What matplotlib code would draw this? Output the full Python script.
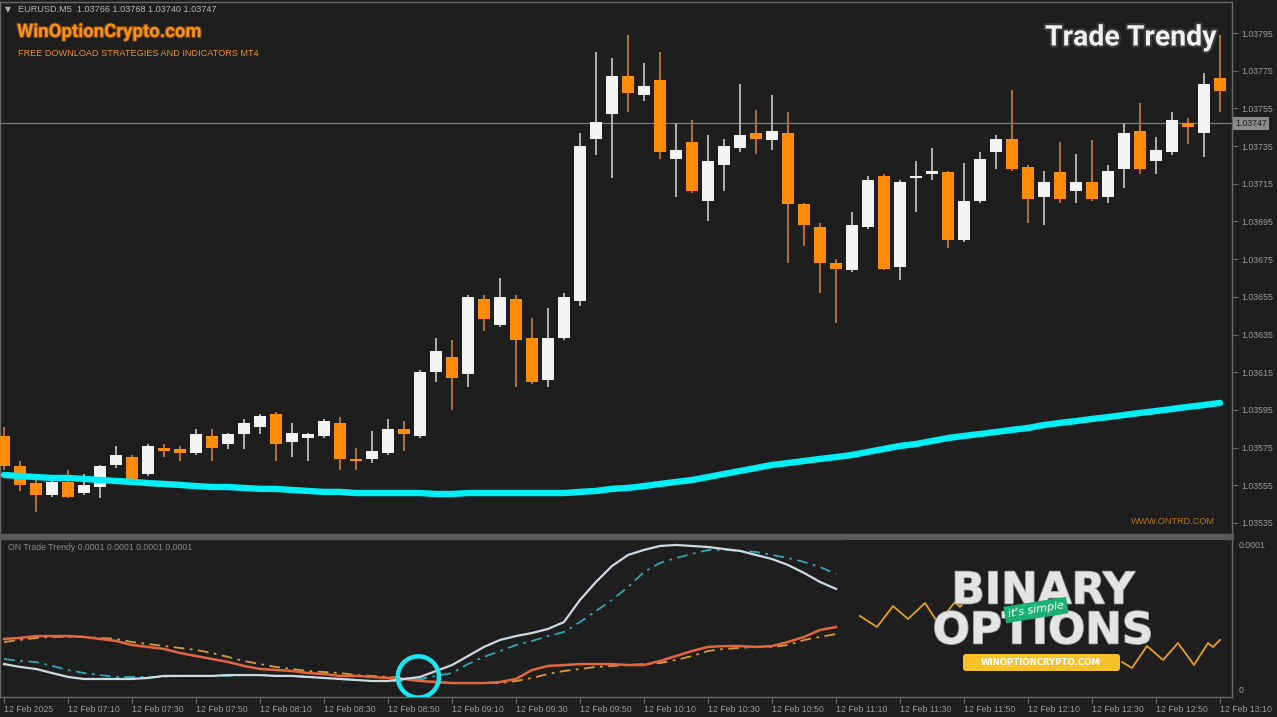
import matplotlib
matplotlib.use('Agg')
import matplotlib.pyplot as plt
import matplotlib.patheffects as pe
from matplotlib.patches import FancyBboxPatch, Rectangle

# ---------------- data ----------------
opens = [1.03581, 1.03565, 1.03556, 1.03550, 1.03557, 1.03551, 1.03554, 1.03566, 1.03570, 1.03561,
         1.03575, 1.03574, 1.03572, 1.03581, 1.03577, 1.03582, 1.03586, 1.03593, 1.03578, 1.03580,
         1.03581, 1.03588, 1.03569, 1.03569, 1.03572, 1.03585, 1.03581, 1.03615, 1.03623, 1.03614,
         1.03654, 1.03640, 1.03654, 1.03633, 1.03611, 1.03633, 1.03653, 1.03739, 1.03752, 1.03772,
         1.03762, 1.03770, 1.03728, 1.03737, 1.03706, 1.03725, 1.03734, 1.03742, 1.03738, 1.03742,
         1.03704, 1.03692, 1.03673, 1.03669, 1.03692, 1.03719, 1.03671, 1.03718, 1.03720, 1.03721,
         1.03685, 1.03706, 1.03732, 1.03739, 1.03724, 1.03708, 1.03721, 1.03711, 1.03716, 1.03708,
         1.03723, 1.03743, 1.03727, 1.03732, 1.03747, 1.03742, 1.03771]
closes = [1.03565, 1.03555, 1.03550, 1.03557, 1.03549, 1.03555, 1.03565, 1.03571, 1.03558, 1.03576,
          1.03573, 1.03572, 1.03582, 1.03575, 1.03582, 1.03588, 1.03592, 1.03577, 1.03583, 1.03582,
          1.03589, 1.03569, 1.03568, 1.03573, 1.03585, 1.03582, 1.03615, 1.03626, 1.03612, 1.03655,
          1.03643, 1.03655, 1.03632, 1.03610, 1.03633, 1.03655, 1.03735, 1.03748, 1.03772, 1.03763,
          1.03767, 1.03732, 1.03733, 1.03711, 1.03727, 1.03735, 1.03741, 1.03739, 1.03743, 1.03704,
          1.03693, 1.03673, 1.03670, 1.03693, 1.03717, 1.03670, 1.03716, 1.03719, 1.03722, 1.03685,
          1.03706, 1.03728, 1.03739, 1.03723, 1.03707, 1.03716, 1.03707, 1.03716, 1.03707, 1.03722,
          1.03742, 1.03723, 1.03733, 1.03749, 1.03745, 1.03768, 1.03764]
highs = [1.03586, 1.03568, 1.03559, 1.03560, 1.03563, 1.03561, 1.03566, 1.03576, 1.03571, 1.03577,
         1.03577, 1.03576, 1.03585, 1.03585, 1.03583, 1.03590, 1.03593, 1.03594, 1.03588, 1.03583,
         1.03590, 1.03591, 1.03575, 1.03584, 1.03590, 1.03589, 1.03616, 1.03633, 1.03632, 1.03656,
         1.03656, 1.03665, 1.03656, 1.03644, 1.03649, 1.03657, 1.03742, 1.03785, 1.03782, 1.03794,
         1.03779, 1.03785, 1.03747, 1.03749, 1.03741, 1.03739, 1.03768, 1.03754, 1.03762, 1.03753,
         1.03705, 1.03694, 1.03675, 1.03700, 1.03719, 1.03720, 1.03717, 1.03727, 1.03734, 1.03722,
         1.03726, 1.03732, 1.03741, 1.03765, 1.03725, 1.03722, 1.03737, 1.03731, 1.03738, 1.03725,
         1.03747, 1.03758, 1.03740, 1.03753, 1.03750, 1.03774, 1.03794]
lows = [1.03563, 1.03552, 1.03541, 1.03549, 1.03548, 1.03550, 1.03548, 1.03564, 1.03557, 1.03560,
        1.03570, 1.03568, 1.03571, 1.03568, 1.03574, 1.03574, 1.03582, 1.03568, 1.03570, 1.03568,
        1.03580, 1.03563, 1.03563, 1.03567, 1.03571, 1.03573, 1.03580, 1.03610, 1.03595, 1.03607,
        1.03637, 1.03639, 1.03607, 1.03609, 1.03607, 1.03632, 1.03650, 1.03730, 1.03718, 1.03753,
        1.03759, 1.03728, 1.03708, 1.03710, 1.03695, 1.03711, 1.03732, 1.03731, 1.03733, 1.03673,
        1.03682, 1.03657, 1.03641, 1.03668, 1.03691, 1.03669, 1.03664, 1.03700, 1.03717, 1.03681,
        1.03684, 1.03705, 1.03723, 1.03722, 1.03694, 1.03693, 1.03705, 1.03705, 1.03706, 1.03705,
        1.03713, 1.03720, 1.03720, 1.03730, 1.03736, 1.03729, 1.03753]
ma_line = [1.035605, 1.035599, 1.035594, 1.035589, 1.035589, 1.035584, 1.035578, 1.035573, 1.035568, 1.035562,
           1.035557, 1.035552, 1.035546, 1.035541, 1.035541, 1.035536, 1.035531, 1.035531, 1.035525, 1.035520,
           1.035515, 1.035515, 1.035509, 1.035509, 1.035509, 1.035509, 1.035509, 1.035504, 1.035504, 1.035509,
           1.035509, 1.035509, 1.035509, 1.035509, 1.035509, 1.035509, 1.035515, 1.035520, 1.035531, 1.035536,
           1.035546, 1.035557, 1.035568, 1.035578, 1.035594, 1.035610, 1.035626, 1.035642, 1.035658, 1.035668,
           1.035679, 1.035690, 1.035700, 1.035711, 1.035727, 1.035743, 1.035759, 1.035769, 1.035785, 1.035801,
           1.035812, 1.035822, 1.035833, 1.035844, 1.035854, 1.035870, 1.035881, 1.035891, 1.035902, 1.035912,
           1.035923, 1.035934, 1.035944, 1.035955, 1.035966, 1.035976, 1.035987]

# indicator buffers (units of 1e-6), bars 0..52
ind_main = [17.9, 15.9, 14.5, 11.7, 9.0, 7.6, 7.6, 7.6, 7.6, 8.3,
            9.7, 9.7, 9.7, 9.7, 10.3, 10.3, 10.3, 9.7, 9.7, 9.0,
            8.3, 7.6, 6.9, 6.2, 6.2, 7.6, 9.0, 13.1, 17.2, 23.4,
            29.7, 34.5, 37.2, 39.3, 42.1, 46.9, 62.1, 74.5, 85.5, 93.1,
            96.6, 99.3, 100.0, 99.3, 98.6, 97.2, 95.9, 93.1, 90.3, 86.2,
            80.7, 74.5, 69.7]
ind_main_sig = [21.4, 20.0, 19.3, 16.6, 13.8, 11.7, 10.3, 9.0, 9.0, 9.0,
                9.0, 9.7, 9.7, 9.7, 9.7, 10.3, 10.3, 9.7, 9.7, 9.0,
                8.3, 7.6, 6.9, 6.2, 6.2, 6.2, 7.6, 9.7, 11.7, 17.9,
                22.8, 26.9, 31.0, 33.8, 37.2, 40.0, 46.9, 54.5, 62.1, 71.0,
                81.4, 87.6, 91.0, 93.8, 96.6, 96.6, 95.9, 95.2, 93.1, 91.0,
                88.3, 84.8, 80.0]
ind_alt = [35.2, 35.9, 37.2, 37.2, 37.2, 36.6, 35.2, 33.8, 31.0, 29.7,
           28.3, 25.5, 23.4, 21.4, 19.3, 16.6, 14.5, 13.8, 13.1, 11.7,
           11.0, 9.7, 9.7, 9.0, 8.3, 7.6, 6.2, 5.5, 4.8, 4.8,
           4.8, 5.5, 7.6, 13.8, 16.6, 17.2, 17.9, 17.9, 17.9, 17.2,
           17.2, 20.0, 23.4, 26.9, 29.7, 30.3, 30.3, 29.7, 30.3, 33.1,
           36.6, 41.4, 43.4]
ind_alt_sig = [33.1, 34.5, 35.9, 36.6, 36.6, 36.6, 35.9, 35.2, 33.1, 31.7,
               30.3, 29.0, 27.6, 25.5, 22.8, 20.0, 17.9, 15.9, 14.5, 13.1,
               12.4, 11.7, 10.3, 9.7, 9.0, 8.3, 6.9, 5.5, 4.8, 4.8,
               4.8, 4.8, 6.2, 8.3, 11.0, 13.1, 14.5, 15.9, 16.6, 17.2,
               17.9, 18.6, 20.7, 23.4, 26.9, 28.3, 29.0, 29.7, 29.7, 31.0,
               34.5, 36.6, 38.6]

time_labels = ["12 Feb 2025", "12 Feb 07:10", "12 Feb 07:30", "12 Feb 07:50", "12 Feb 08:10",
               "12 Feb 08:30", "12 Feb 08:50", "12 Feb 09:10", "12 Feb 09:30", "12 Feb 09:50",
               "12 Feb 10:10", "12 Feb 10:30", "12 Feb 10:50", "12 Feb 11:10", "12 Feb 11:30",
               "12 Feb 11:50", "12 Feb 12:10", "12 Feb 12:30", "12 Feb 12:50", "12 Feb 13:10"]
price_ticks = [1.03535, 1.03555, 1.03575, 1.03595, 1.03615, 1.03635, 1.03655, 1.03675,
               1.03695, 1.03715, 1.03735, 1.03755, 1.03775, 1.03795]
last_price = 1.03747
cross_bar, cross_val = 25.9, 9.0
header = "EURUSD.M5  1.03766 1.03768 1.03740 1.03747"
ind_header = "ON Trade Trendy 0.0001 0.0001 0.0001 0.0001"

# logo decoration (overlay pixel frame)
logo_zig_a = [(860, 616), (877, 627), (893, 606), (908, 619), (925, 603), (938, 623), (955, 602), (960, 607), (967, 598)]
logo_zig_b = [(1122, 662), (1132, 668), (1147, 646), (1163, 660), (1178, 643), (1194, 665), (1208, 643), (1213, 647), (1220, 640)]

# ---------------- style ----------------
BG = '#1e1e1e'
SPINE = '#6a6a6a'
TXT = '#9a9a9a'
BULL = '#f4f4f4'
BEAR = '#ff8c0a'
BULL_WICK = '#bdbdbd'
BEAR_WICK = '#c8742a'
SMALL = ['Liberation Sans', 'DejaVu Sans']
BOLDF = ['Roboto', 'DejaVu Sans']

W, H = 1277, 717
fig = plt.figure(figsize=(W / 100, H / 100), dpi=100, facecolor=BG)


def px_axes(x0, y0, x1, y1, **kw):
    return fig.add_axes([x0 / W, 1 - y1 / H, (x1 - x0) / W, (y1 - y0) / H], **kw)


ax = px_axes(0, 2, 1232, 535)
ax2 = px_axes(0, 538, 1232, 697)
for a in (ax, ax2):
    a.set_facecolor(BG)
    for s in a.spines.values():
        s.set_color(SPINE)
        s.set_linewidth(1.0)
    a.set_xlim(-0.25, 76.75)

ax.spines['bottom'].set_linewidth(2.5)
ax.spines['bottom'].set_color('#5a5a5a')
ax2.spines['top'].set_linewidth(2.5)
ax2.spines['top'].set_color('#5a5a5a')

ax.set_ylim(1.0352863, 1.0381145)
ax2.set_ylim(-4.83, 104.8)

# ---------------- candles ----------------
n = len(opens)
xs = list(range(n))
min_h = 0.0000075
for i in xs:
    o, c, h, l = opens[i], closes[i], highs[i], lows[i]
    bull = c >= o
    wc = BULL_WICK if bull else BEAR_WICK
    ax.vlines(i, l, h, color=wc, linewidth=1.3, zorder=2)
    lo = min(o, c)
    hh = max(abs(c - o), min_h)
    ax.bar(i, hh, bottom=lo if abs(c - o) >= min_h else (o + c) / 2 - min_h / 2,
           width=0.7, color=BULL if bull else BEAR, edgecolor='none', zorder=3)

ax.plot(xs, ma_line, color='#00eef4', linewidth=4.6, solid_capstyle='round', zorder=4)
ax.axhline(last_price, color='#7c7c7c', linewidth=0.9, zorder=1)

ax.yaxis.tick_right()
ax.set_yticks(price_ticks)
ax.set_yticklabels([f"{p:.5f}" for p in price_ticks])
ax.tick_params(axis='y', colors=SPINE, labelcolor=TXT, length=4, width=0.8, pad=3, labelsize=6.3)
for t in ax.get_yticklabels():
    t.set_family(SMALL)
ax.set_xticks([])
ax.text(1.0 + 3 / 1232, last_price, "1.03747", transform=ax.get_yaxis_transform(),
        ha='left', va='center', fontsize=6.3, family=SMALL, color='#1e1e1e',
        bbox=dict(boxstyle='square,pad=0.25', facecolor='#8a8a8a', edgecolor='none'), zorder=6, clip_on=False)

# header texts
fig.text(5 / W, 1 - 10 / H, "\u25bc", fontsize=5.5, color='#b0b0b0', va='center', ha='left', family='DejaVu Sans')
fig.text(18 / W, 1 - 10 / H, header, fontsize=6.6, color='#b4b4b4', va='center', ha='left', family=SMALL)
fig.text(17 / W, 1 - 32 / H, "WinOptionCrypto.com", fontsize=13.4, color='#f7941d', fontweight='bold',
         va='center', ha='left', family=BOLDF,
         path_effects=[pe.withStroke(linewidth=1.5, foreground='#7a4208')])
fig.text(18 / W, 1 - 53 / H, "FREE DOWNLOAD STRATEGIES AND INDICATORS MT4", fontsize=6.6, color='#e8902a',
         va='center', ha='left', family=SMALL)
fig.text(1217 / W, 1 - 38 / H, "Trade Trendy", fontsize=20.5, color='#f2f2f2', fontweight='bold',
         va='center', ha='right', family=BOLDF,
         path_effects=[pe.withStroke(linewidth=3, foreground='#3a3a3a')])
fig.text(1215 / W, 1 - 522 / H, "WWW.ONTRD.COM", fontsize=6.6, color='#b5731e', va='center', ha='right',
         family=SMALL)

# ---------------- indicator ----------------
ix = list(range(len(ind_main)))
ax2.plot(ix, ind_alt_sig, color='#d89a38', linewidth=1.3, dashes=(6, 3, 1.5, 3), zorder=2)
ax2.plot(ix, ind_main_sig, color='#2fa6b6', linewidth=1.3, dashes=(6, 3, 1.5, 3), zorder=2)
ax2.plot(ix, ind_alt, color='#e2663e', linewidth=1.8, zorder=3)
ax2.plot(ix, ind_main, color='#cdd9e0', linewidth=1.6, zorder=3)
ax2.scatter([cross_bar], [cross_val], s=880, facecolor='none', edgecolor='#1ee4f0', linewidth=3.2, zorder=5)

ax2.yaxis.tick_right()
ax2.set_yticks([0, 100])
ax2.set_yticklabels(["0", "0.0001"])
ax2.tick_params(axis='y', length=0, colors=SPINE, labelcolor=TXT, labelsize=6.3, pad=5)
for t in ax2.get_yticklabels():
    t.set_family(SMALL)
ax2.set_xticks(list(range(0, 77, 4)))
ax2.set_xticklabels(time_labels)
ax2.tick_params(axis='x', colors=SPINE, labelcolor=TXT, length=4, width=0.8, pad=2, labelsize=6.3)
for t in ax2.get_xticklabels():
    t.set_ha('left')
    t.set_family(SMALL)
ax2.text(8 / 1232, 1 - 9 / 159, ind_header, transform=ax2.transAxes, fontsize=6.3, color='#8a8a8a',
         va='center', ha='left', family=SMALL)

# ---------------- overlay logo ----------------
ov = px_axes(843, 540, 1226, 696)
ov.set_facecolor(BG)
ov.set_xlim(843, 1226)
ov.set_ylim(696, 540)
ov.axis('off')
ov.add_patch(Rectangle((843, 540), 383, 156, facecolor=BG, edgecolor='none', zorder=0))
ov.plot([p[0] for p in logo_zig_a], [p[1] for p in logo_zig_a], color='#e6a020', linewidth=1.3, zorder=1)
ov.plot([p[0] for p in logo_zig_b], [p[1] for p in logo_zig_b], color='#e6a020', linewidth=1.3, zorder=1)
ov.text(1043, 591, "BINARY", fontsize=31.5, fontweight='heavy', color='#e4e4e4', ha='center', va='center',
        family='DejaVu Sans', zorder=2, path_effects=[pe.withStroke(linewidth=1.2, foreground='#9a9a9a')])
ov.text(1043, 631, "OPTIONS", fontsize=31.5, fontweight='heavy', color='#e4e4e4', ha='center', va='center',
        family='DejaVu Sans', zorder=2, path_effects=[pe.withStroke(linewidth=1.2, foreground='#9a9a9a')])
ov.text(1036, 610, "it's simple", fontsize=8, style='italic', color='white', ha='center', va='center',
        rotation=9, family='DejaVu Sans', zorder=4,
        bbox=dict(boxstyle='square,pad=0.3', facecolor='#19b071', edgecolor='none'))
ov.add_patch(FancyBboxPatch((963, 654), 157, 17, boxstyle='round,pad=0,rounding_size=3',
                            facecolor='#f6c42a', edgecolor='none', zorder=3))
ov.text(1041, 662.5, "WINOPTIONCRYPTO.COM", fontsize=6.2, fontweight='bold', color='white',
        ha='center', va='center', family='DejaVu Sans', zorder=4)

fig.savefig('out.png', dpi=100, facecolor=BG)
